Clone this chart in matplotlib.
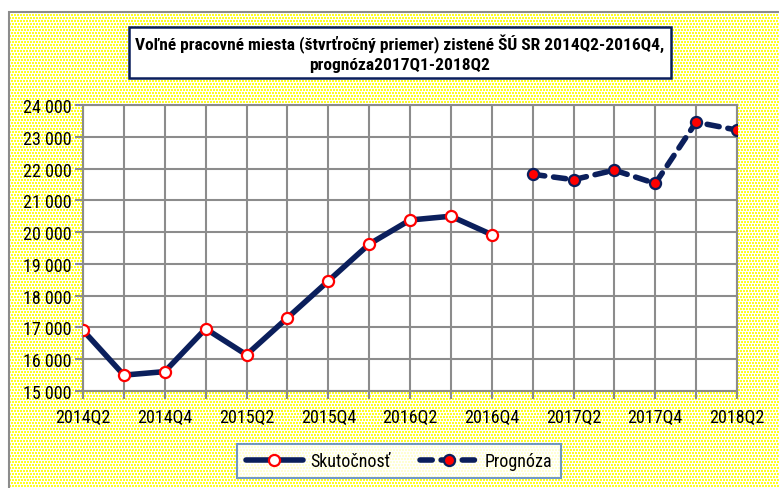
import numpy as np
import matplotlib.pyplot as plt
from matplotlib.patches import Rectangle
from matplotlib.ticker import FuncFormatter

quarters = ["2014Q2", "2014Q3", "2014Q4", "2015Q1", "2015Q2", "2015Q3", "2015Q4",
            "2016Q1", "2016Q2", "2016Q3", "2016Q4",
            "2017Q1", "2017Q2", "2017Q3", "2017Q4", "2018Q1", "2018Q2"]
skutocnost = [16910, 15500, 15610, 16960, 16140, 17300, 18460, 19620, 20380, 20500, 19920]
prognoza = [21820, 21650, 21950, 21530, 23460, 23210]

title = "Voľné pracovné miesta (štvrťročný priemer) zistené ŠÚ SR 2014Q2-2016Q4,\nprognóza2017Q1-2018Q2"

plt.rcParams['font.family'] = ['Roboto Condensed', 'DejaVu Sans']
navy = '#0B1F5C'
W, H = 779, 489

fig = plt.figure(figsize=(W / 100, H / 100), dpi=100)
fig.patch.set_facecolor('white')

# tečkované žlté pozadie (textúra), vľavo a hore biely okraj
yy, xx = np.mgrid[0:H, 0:W]
dots = ((xx + ((yy // 3) % 2)) % 3 < 2) & (yy % 3 < 2)
tex = np.ones((H, W, 3))
tex[dots] = [1.0, 1.0, 0.15]
tex[:13, :] = 1.0
tex[:, :9] = 1.0
fig.figimage(tex, xo=0, yo=0, origin='upper', zorder=-10)
frame = Rectangle((9 / W, -0.01), 1, 1 - 13 / H + 0.01, transform=fig.transFigure,
                  facecolor='none', edgecolor='#8C8C8C', linewidth=1.5, zorder=-9)
fig.patches.append(frame)

ax = fig.add_axes([83 / W, 1 - 392 / H, (737 - 83) / W, (392 - 106) / H])
ax.set_facecolor('white')

x_act = np.arange(len(skutocnost))
x_fc = np.arange(len(skutocnost), len(quarters))

ax.plot(x_act, skutocnost, color=navy, lw=4, solid_capstyle='round',
        marker='o', ms=8, mfc='white', mec='red', mew=1.6, label='Skutočnosť', zorder=3)
ax.plot(x_fc, prognoza, color=navy, lw=4, ls=(0, (2.2, 1.6)), dash_capstyle='round',
        marker='o', ms=8, mfc='red', mec=navy, mew=1.6, label='Prognóza', zorder=3)

ax.set_xlim(0, len(quarters) - 1)
ax.set_ylim(15000, 24000)
ax.set_yticks(np.arange(15000, 24001, 1000))
ax.yaxis.set_major_formatter(FuncFormatter(lambda v, p: f"{int(v):,}".replace(",", " ")))
ax.set_xticks(np.arange(len(quarters)))
ax.set_xticklabels([q if i % 2 == 0 else "" for i, q in enumerate(quarters)])

ax.grid(True, color='#8C8C8C', lw=1.5)
ax.set_axisbelow(True)
for s in ax.spines.values():
    s.set_color('#8C8C8C')
    s.set_linewidth(1.5)
ax.tick_params(axis='both', colors='#8C8C8C', length=6, width=1.5, labelsize=13,
               labelcolor='black')
ax.tick_params(axis='x', pad=6)
ax.tick_params(axis='y', pad=2)

fig.text(400 / W, 1 - 54 / H, title, ha='center', va='center', fontsize=12.5,
         fontweight='bold', linespacing=1.3,
         bbox=dict(boxstyle='square,pad=0.35', facecolor='white', edgecolor=navy, lw=1.8))

leg = fig.legend(loc='center', bbox_to_anchor=(399 / W, 1 - 462 / H), ncol=2,
                 fontsize=13, handlelength=3.2, handletextpad=0.4, columnspacing=1.6,
                 frameon=True, fancybox=False, borderpad=0.45)
leg.get_frame().set_edgecolor('#4F81BD')
leg.get_frame().set_linewidth(1.5)

fig.savefig('out.png', dpi=100)
